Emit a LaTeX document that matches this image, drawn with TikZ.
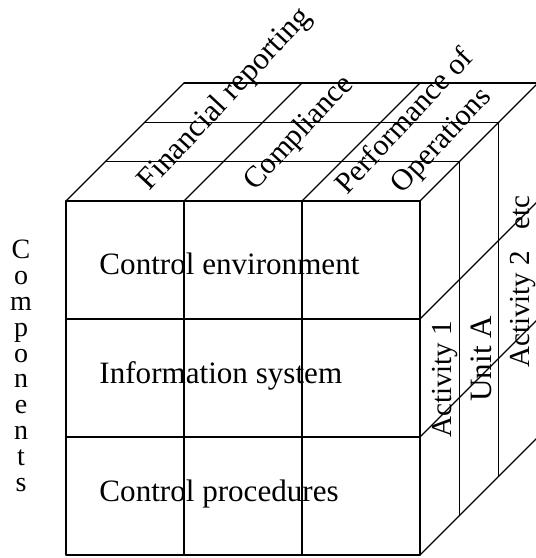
\documentclass[tikz,border=0pt]{standalone}
\usepackage{fontspec}
\setmainfont{Liberation Serif}
\usetikzlibrary{calc}
\usepackage{tkz-euclide}

\begin{document}
\begin{tikzpicture}[scale=2/3,
  FaceTxt/.style={font=\fontsize{15}{18}\selectfont,inner sep=0pt,anchor=base west},
  SideTxt/.style={font=\fontsize{14}{17}\selectfont,inner sep=0pt,anchor=base west}]
\useasboundingbox (-1.678,-0.076) rectangle (11.924,14.11);
\tkzSetUpLine[line width=0.6pt,color=black]

% front face
\tkzDefPoints{0/0/A,9/0/B,9/9/C,0/9/D}
\tkzDefPoints{3/0/E,6/0/F,3/9/G,6/9/H,0/3/I,9/3/J,0/6/K,9/6/L}
% top face
\tkzDefPoints{1/10/D1,2/11/D2,3/12/D3,10/10/C1,11/11/C2,12/12/C3,6/12/G3,9/12/H3}
% right face
\tkzDefPoints{10/1/B1,11/2/B2,12/3/B3,12/6/J3,12/9/L3}

\tkzDrawPolygon(A,B,C,D)
\tkzDrawSegments(E,G F,H I,J K,L)
\tkzDrawSegments(D1,C1 D2,C2 D3,C3 D,D3 G,G3 H,H3 C,C3)
\tkzDrawSegments(B1,C1 B2,C2 B3,C3 B,B3 J,J3 L,L3)

\node[FaceTxt] (env) at (0.84,7.12) {Control environment};
\node[FaceTxt] (info) at (0.84,4.37) {Information system};
\node[FaceTxt] (proc) at (0.84,1.37) {Control procedures};

\node[anchor=north,align=center,inner sep=0pt,font=\fontsize{13.5}{12.45}\selectfont]
  (comp) at (-1.144,8.01) {C\\o\\m\\p\\o\\n\\e\\n\\t\\s};

\node[SideTxt,rotate=47,font=\fontsize{15}{18}\selectfont] (fin) at (2.12,9.23) {Financial reporting};
\node[SideTxt,rotate=47,font=\fontsize{14.5}{17}\selectfont] (compl) at (4.80,9.23) {Compliance};
\node[SideTxt,rotate=47,font=\fontsize{14.5}{17}\selectfont] (perf) at (7.14,9.13) {Performance of};
\node[SideTxt,rotate=47,font=\fontsize{14.5}{17}\selectfont] (oper) at (8.54,9.17) {Operations};

\node[SideTxt,rotate=90] (act1) at (9.79,2.97) {Activity 1};
\node[SideTxt,rotate=90,font=\fontsize{15}{18}\selectfont] (unit) at (10.83,3.89) {Unit A};
\node[SideTxt,rotate=90] (act2) at (11.78,4.75) {Activity 2~~ etc};

\end{tikzpicture}
\end{document}
